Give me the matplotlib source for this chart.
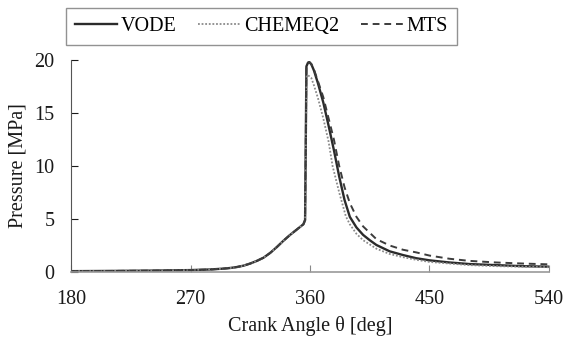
import matplotlib
matplotlib.use("Agg")
import matplotlib.pyplot as plt

# Pressure traces (crank angle in deg, pressure in MPa)
vode_theta = [180, 210, 240, 270, 285, 295, 300, 305, 310, 315, 320, 325, 330, 335,
              340, 345, 350, 355, 356.3, 356.8, 357.3, 358.5, 359.5, 361, 363, 366,
              370, 374, 378, 382, 386, 390, 395, 400, 405, 410, 420, 430, 440, 450,
              465, 480, 500, 520, 540]
vode_p = [0.08, 0.1, 0.13, 0.18, 0.24, 0.32, 0.38, 0.47, 0.6, 0.8, 1.05, 1.35, 1.8,
          2.35, 2.95, 3.5, 4.0, 4.5, 4.9, 12.0, 19.4, 19.75, 19.8, 19.6, 19.0, 17.8,
          16.0, 13.8, 11.5, 9.0, 6.8, 5.2, 4.2, 3.5, 3.0, 2.55, 1.95, 1.6, 1.3, 1.1,
          0.9, 0.75, 0.65, 0.55, 0.5]

chem_theta = [180, 210, 240, 270, 285, 295, 300, 305, 310, 315, 320, 325, 330, 335,
              340, 345, 350, 355, 356.3, 356.8, 357.4, 358.2, 361, 363, 366, 370, 374,
              377, 382, 387, 390, 395, 400, 410, 420, 430, 440, 450, 465, 480, 500,
              520, 540]
chem_p = [0.08, 0.1, 0.13, 0.18, 0.24, 0.32, 0.38, 0.47, 0.6, 0.8, 1.05, 1.35, 1.8,
          2.35, 2.95, 3.5, 4.0, 4.5, 4.9, 11.0, 18.4, 18.6, 18.3, 17.6, 16.4, 14.5,
          12.3, 10.0, 7.5, 5.25, 4.5, 3.6, 3.0, 2.2, 1.7, 1.4, 1.15, 0.95, 0.8, 0.65,
          0.55, 0.5, 0.45]

mts_theta = [180, 210, 240, 270, 285, 295, 300, 305, 310, 315, 320, 325, 330, 335,
             340, 345, 350, 355, 356.3, 356.8, 357.3, 358.5, 359.5, 361, 363, 366,
             370, 374, 378, 382, 386, 390, 395, 400, 410, 420, 430, 440, 450, 465,
             480, 500, 520, 540]
mts_p = [0.08, 0.1, 0.13, 0.18, 0.24, 0.32, 0.38, 0.47, 0.6, 0.8, 1.05, 1.35, 1.8,
         2.35, 2.95, 3.5, 4.0, 4.5, 4.9, 12.0, 19.4, 19.75, 19.8, 19.6, 19.1, 18.0,
         16.5, 14.5, 12.5, 10.0, 8.0, 6.5, 5.2, 4.3, 3.1, 2.5, 2.1, 1.85, 1.55, 1.25,
         1.05, 0.9, 0.8, 0.72]

x_ticks = [180, 270, 360, 450, 540]
y_ticks = [0, 5, 10, 15, 20]

plt.rcParams['font.family'] = ['Liberation Serif', 'DejaVu Serif']

fig = plt.figure(figsize=(5.67, 3.4), dpi=100)
ax = fig.add_axes([71 / 567, 1 - 272 / 340, 478 / 567, 212 / 340])

ax.plot(vode_theta, vode_p, color='#2b2b2b', lw=1.7, label='VODE')
ax.plot(chem_theta, chem_p, color='#8a8a8a', lw=1.3, ls=(0, (1, 1)), label='CHEMEQ2')
ax.plot(mts_theta, mts_p, color='#3c3c3c', lw=1.4, ls=(0, (3.5, 2.5)), label='MTS')

ax.set_xlim(180, 540)
ax.set_ylim(0, 20)
ax.set_xticks(x_ticks)
ax.set_yticks(y_ticks)
ax.tick_params(direction='in', length=5, labelsize=14.5, colors='#1a1a1a')
ax.tick_params(axis='x', pad=13, color='#888888')
ax.tick_params(axis='y', pad=12)

ax.spines['top'].set_visible(False)
ax.spines['right'].set_visible(False)
ax.spines['left'].set_color('#555555')
ax.spines['bottom'].set_color('#999999')
ax.spines['bottom'].set_linewidth(1.2)

ax.set_xlabel('Crank Angle θ [deg]', fontsize=14.5, color='#1a1a1a', labelpad=5)
ax.set_ylabel('Pressure [MPa]', fontsize=14.5, color='#1a1a1a', labelpad=5)

leg = fig.legend(loc='upper center', bbox_to_anchor=(261.5 / 567, 1 - 8 / 340), ncol=3,
                 fontsize=14.5, frameon=True, fancybox=False, handlelength=2.1,
                 handletextpad=0.2, columnspacing=1.05, borderpad=0.45,
                 borderaxespad=0)
leg.get_frame().set_edgecolor('#777777')
leg.get_frame().set_linewidth(1.0)

fig.savefig('out.png', dpi=100)
